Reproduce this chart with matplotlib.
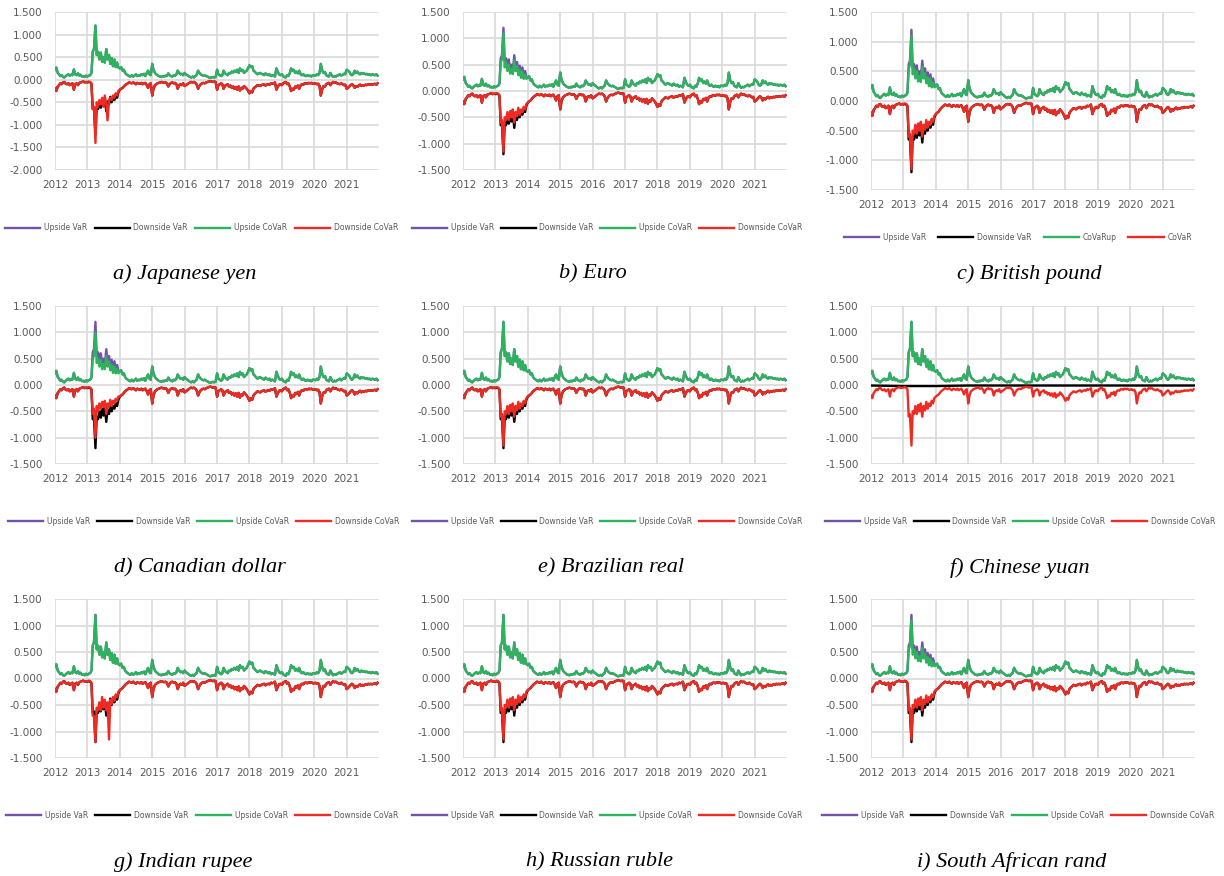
import matplotlib
matplotlib.use('Agg')
import matplotlib.pyplot as plt
import matplotlib.dates as mdates
from matplotlib.ticker import FuncFormatter, MultipleLocator
import pandas as pd

# semi-monthly observation dates (1st and 15th), 2012-2021
DATES = pd.date_range('2012-01-01', '2021-12-31', freq='SMS')

# shared upside profile (Upside VaR, and Upside CoVaR outside 2013)
UPSIDE = [
    0.22, 0.27, 0.15, 0.12, 0.08, 0.10, 0.06, 0.05, 0.08, 0.10, 0.12, 0.09, 0.11, 0.10, 0.23, 0.12, 0.10, 0.14, 0.09, 0.11, 0.07, 0.08, 0.06, 0.09,  # 2012
    0.07, 0.09, 0.10, 0.15, 0.62, 0.68, 1.20, 0.55, 0.62, 0.45, 0.60, 0.40, 0.50, 0.38, 0.68, 0.45, 0.55, 0.35, 0.48, 0.30, 0.45, 0.28, 0.38, 0.27,  # 2013
    0.25, 0.28, 0.20, 0.22, 0.15, 0.12, 0.10, 0.08, 0.07, 0.10, 0.07, 0.09, 0.12, 0.08, 0.10, 0.09, 0.12, 0.10, 0.13, 0.08, 0.15, 0.20, 0.12, 0.10,  # 2014
    0.35, 0.22, 0.15, 0.12, 0.10, 0.08, 0.07, 0.06, 0.08, 0.07, 0.09, 0.08, 0.14, 0.10, 0.08, 0.07, 0.10, 0.09, 0.12, 0.20, 0.15, 0.12, 0.13, 0.10,  # 2015
    0.15, 0.12, 0.10, 0.08, 0.06, 0.05, 0.07, 0.05, 0.08, 0.10, 0.20, 0.15, 0.12, 0.10, 0.09, 0.10, 0.08, 0.07, 0.05, 0.04, 0.05, 0.06, 0.05, 0.06,  # 2016
    0.22, 0.12, 0.10, 0.08, 0.10, 0.20, 0.14, 0.12, 0.10, 0.15, 0.14, 0.18, 0.16, 0.20, 0.17, 0.22, 0.15, 0.25, 0.20, 0.22, 0.15, 0.18, 0.20, 0.25,  # 2017
    0.32, 0.28, 0.30, 0.20, 0.18, 0.15, 0.12, 0.14, 0.15, 0.13, 0.12, 0.10, 0.14, 0.12, 0.10, 0.12, 0.08, 0.10, 0.09, 0.07, 0.25, 0.18, 0.12, 0.10,  # 2018
    0.12, 0.08, 0.06, 0.05, 0.10, 0.08, 0.15, 0.25, 0.20, 0.22, 0.15, 0.18, 0.14, 0.20, 0.12, 0.10, 0.12, 0.09, 0.08, 0.10, 0.08, 0.09, 0.07, 0.10,  # 2019
    0.10, 0.09, 0.12, 0.10, 0.15, 0.35, 0.20, 0.15, 0.17, 0.10, 0.08, 0.07, 0.15, 0.10, 0.06, 0.08, 0.07, 0.09, 0.10, 0.12, 0.09, 0.11, 0.13, 0.12,  # 2020
    0.22, 0.20, 0.17, 0.12, 0.10, 0.12, 0.20, 0.15, 0.18, 0.14, 0.12, 0.15, 0.13, 0.14, 0.12, 0.13, 0.11, 0.12, 0.10, 0.12, 0.11, 0.10, 0.12, 0.09,  # 2021
]

# shared downside profile (Downside CoVaR, and Downside VaR outside 2013)
DOWNSIDE = [
    -0.20, -0.25, -0.15, -0.12, -0.08, -0.10, -0.06, -0.05, -0.09, -0.10, -0.08, -0.12, -0.10, -0.08, -0.22, -0.10, -0.08, -0.12, -0.07, -0.06, -0.05, -0.04, -0.06, -0.05,  # 2012
    -0.05, -0.04, -0.05, -0.08, -0.60, -0.55, -1.15, -0.50, -0.55, -0.40, -0.55, -0.38, -0.50, -0.35, -0.60, -0.40, -0.48, -0.32, -0.45, -0.35, -0.40, -0.30, -0.35, -0.25,  # 2013
    -0.22, -0.20, -0.18, -0.15, -0.12, -0.10, -0.08, -0.06, -0.07, -0.08, -0.06, -0.08, -0.10, -0.07, -0.08, -0.09, -0.07, -0.10, -0.08, -0.07, -0.12, -0.18, -0.10, -0.08,  # 2014
    -0.35, -0.20, -0.12, -0.10, -0.08, -0.07, -0.06, -0.05, -0.06, -0.07, -0.06, -0.08, -0.15, -0.10, -0.07, -0.06, -0.08, -0.07, -0.10, -0.20, -0.12, -0.10, -0.12, -0.08,  # 2015
    -0.14, -0.12, -0.10, -0.08, -0.06, -0.05, -0.06, -0.05, -0.07, -0.10, -0.20, -0.14, -0.10, -0.08, -0.07, -0.08, -0.06, -0.05, -0.04, -0.03, -0.04, -0.05, -0.04, -0.05,  # 2016
    -0.22, -0.12, -0.10, -0.08, -0.10, -0.20, -0.13, -0.12, -0.10, -0.15, -0.13, -0.18, -0.15, -0.20, -0.16, -0.22, -0.15, -0.24, -0.18, -0.20, -0.14, -0.17, -0.20, -0.24,  # 2017
    -0.30, -0.25, -0.28, -0.20, -0.17, -0.15, -0.12, -0.13, -0.14, -0.12, -0.11, -0.10, -0.13, -0.11, -0.10, -0.11, -0.08, -0.09, -0.08, -0.06, -0.22, -0.16, -0.11, -0.10,  # 2018
    -0.12, -0.08, -0.06, -0.05, -0.10, -0.08, -0.15, -0.25, -0.20, -0.22, -0.15, -0.17, -0.13, -0.20, -0.12, -0.10, -0.11, -0.08, -0.08, -0.09, -0.07, -0.08, -0.07, -0.09,  # 2019
    -0.09, -0.08, -0.10, -0.09, -0.14, -0.35, -0.20, -0.14, -0.15, -0.10, -0.08, -0.07, -0.12, -0.08, -0.05, -0.07, -0.06, -0.08, -0.09, -0.10, -0.08, -0.10, -0.12, -0.11,  # 2020
    -0.20, -0.18, -0.15, -0.12, -0.10, -0.12, -0.18, -0.14, -0.16, -0.13, -0.11, -0.14, -0.12, -0.13, -0.11, -0.12, -0.10, -0.11, -0.10, -0.11, -0.10, -0.09, -0.11, -0.08,  # 2021
]

# 2013 segments that differ between currencies
UP_COVAR_2013_LOW = [0.07, 0.09, 0.10, 0.13, 0.55, 0.60, 1.10, 0.45, 0.55, 0.38, 0.50, 0.33, 0.42, 0.32, 0.58, 0.38, 0.47, 0.30, 0.40, 0.25, 0.37, 0.23, 0.31, 0.23]
UP_COVAR_2013_CAD = [0.07, 0.09, 0.10, 0.13, 0.50, 0.55, 1.00, 0.42, 0.50, 0.35, 0.47, 0.30, 0.40, 0.30, 0.55, 0.35, 0.45, 0.28, 0.38, 0.23, 0.35, 0.22, 0.30, 0.22]
DOWN_VAR_2013 = [-0.06, -0.05, -0.06, -0.09, -0.65, -0.62, -1.20, -0.60, -0.65, -0.50, -0.62, -0.45, -0.58, -0.42, -0.70, -0.48, -0.55, -0.38, -0.50, -0.40, -0.45, -0.35, -0.40, -0.28]
DOWN_COVAR_2013_JPY = [-0.05, -0.04, -0.05, -0.08, -0.65, -0.60, -1.40, -0.50, -0.60, -0.45, -0.55, -0.40, -0.60, -0.35, -0.55, -0.90, -0.45, -0.40, -0.45, -0.35, -0.40, -0.30, -0.35, -0.25]
DOWN_COVAR_2013_CAD = [-0.05, -0.04, -0.05, -0.08, -0.55, -0.45, -1.00, -0.40, -0.50, -0.35, -0.45, -0.32, -0.42, -0.30, -0.55, -0.35, -0.42, -0.28, -0.40, -0.30, -0.35, -0.26, -0.30, -0.22]
DOWN_COVAR_2013_INR = [-0.05, -0.04, -0.05, -0.08, -0.70, -0.70, -1.20, -0.55, -0.60, -0.45, -0.60, -0.35, -0.55, -0.40, -0.60, -0.45, -1.15, -0.40, -0.48, -0.35, -0.42, -0.30, -0.35, -0.25]

# Chinese yuan downside VaR stays close to zero (yearly readings)
CNY_DOWN_VAR_DATES = ['2012-01-01', '2013-01-01', '2014-01-01', '2015-01-01', '2016-01-01', '2017-01-01',
                      '2018-01-01', '2019-01-01', '2020-01-01', '2021-01-01', '2021-12-31']
CNY_DOWN_VAR = [-0.01, -0.02, -0.02, -0.01, -0.01, -0.01, -0.01, -0.01, -0.01, -0.01, -0.01]

CAPTIONS = ['a) Japanese yen', 'b) Euro', 'c) British pound', 'd) Canadian dollar', 'e) Brazilian real',
            'f) Chinese yuan', 'g) Indian rupee', 'h) Russian ruble', 'i) South African rand']
LABELS = ['Upside VaR', 'Downside VaR', 'Upside CoVaR', 'Downside CoVaR']
LABELS_GBP = ['Upside VaR', 'Downside VaR', 'CoVaRup', 'CoVaR']

COLORS = ['#7352aa', '#000000', '#2db25d', '#ee2a22']
GRAY = '#595959'
LW = 1.7

W, H = 1224, 876


def with_2013(base, seg):
    out = list(base)
    out[24:48] = seg
    return out


# pixel layout: axes (left, top, right, bottom), legend (x0, x1, y), caption (x, y), ymin
panels = [
    dict(ax=(55, 12, 379, 170), leg=(5, 398, 228), cap=(185, 274), ymin=-2.0,
         up_covar=None, down_covar=DOWN_COVAR_2013_JPY, labels=LABELS),
    dict(ax=(463, 12, 787, 170), leg=(412, 802, 228), cap=(593, 274), ymin=-1.5,
         up_covar=UP_COVAR_2013_LOW, down_covar=None, labels=LABELS),
    dict(ax=(871, 12, 1195, 190), leg=(844, 1192, 237), cap=(1029, 274), ymin=-1.5,
         up_covar=UP_COVAR_2013_LOW, down_covar=None, labels=LABELS_GBP),
    dict(ax=(55, 306, 379, 464), leg=(8, 399, 521), cap=(200, 568), ymin=-1.5,
         up_covar=UP_COVAR_2013_CAD, down_covar=DOWN_COVAR_2013_CAD, labels=LABELS),
    dict(ax=(463, 306, 787, 464), leg=(412, 802, 521), cap=(611, 568), ymin=-1.5,
         up_covar=None, down_covar=None, labels=LABELS),
    dict(ax=(871, 306, 1195, 464), leg=(825, 1215, 521), cap=(1020, 568), ymin=-1.5,
         up_covar=None, down_covar=None, labels=LABELS, cny=True),
    dict(ax=(55, 599, 379, 758), leg=(6, 398, 815), cap=(183, 862), ymin=-1.5,
         up_covar=None, down_covar=DOWN_COVAR_2013_INR, labels=LABELS),
    dict(ax=(463, 599, 787, 758), leg=(412, 802, 815), cap=(599, 862), ymin=-1.5,
         up_covar=None, down_covar=None, labels=LABELS),
    dict(ax=(871, 599, 1195, 758), leg=(822, 1214, 815), cap=(1012, 862), ymin=-1.5,
         up_covar=UP_COVAR_2013_LOW, down_covar=None, labels=LABELS),
]

fig = plt.figure(figsize=(W / 100, H / 100), dpi=100)

for p, caption in zip(panels, CAPTIONS):
    l, t, r, b = p['ax']
    ax = fig.add_axes([l / W, 1 - b / H, (r - l) / W, (b - t) / H])

    up_var = UPSIDE
    up_covar = with_2013(UPSIDE, p['up_covar']) if p['up_covar'] else UPSIDE
    down_covar = with_2013(DOWNSIDE, p['down_covar']) if p['down_covar'] else DOWNSIDE

    h1, = ax.plot(DATES, up_var, color=COLORS[0], lw=LW)
    if p.get('cny'):
        h2, = ax.plot(pd.to_datetime(CNY_DOWN_VAR_DATES), CNY_DOWN_VAR, color=COLORS[1], lw=LW)
    else:
        h2, = ax.plot(DATES, with_2013(DOWNSIDE, DOWN_VAR_2013), color=COLORS[1], lw=LW)
    h3, = ax.plot(DATES, up_covar, color=COLORS[2], lw=LW)
    h4, = ax.plot(DATES, down_covar, color=COLORS[3], lw=LW)

    ax.set_xlim(pd.Timestamp('2012-01-01'), pd.Timestamp('2021-12-31'))
    ax.set_ylim(p['ymin'], 1.5)
    ax.xaxis.set_major_locator(mdates.YearLocator())
    ax.xaxis.set_major_formatter(mdates.DateFormatter('%Y'))
    ax.yaxis.set_major_locator(MultipleLocator(0.5))
    ax.yaxis.set_major_formatter(FuncFormatter(lambda v, pos: f'{v:.3f}'))
    ax.grid(True, color='#d9d9d9', lw=1.2)
    ax.set_axisbelow(True)
    for s in ax.spines.values():
        s.set_visible(False)
    ax.tick_params(length=0, labelsize=7.5, labelcolor=GRAY)
    ax.tick_params(axis='x', pad=7)
    ax.tick_params(axis='y', pad=9)

    x0, x1, ly = p['leg']
    ax.legend([h1, h2, h3, h4], p['labels'], loc='center', ncol=4, mode='expand',
              bbox_to_anchor=(x0 / W, 1 - (ly + 6) / H, (x1 - x0) / W, 12 / H),
              bbox_transform=fig.transFigure, frameon=False, fontsize=5.5,
              labelcolor=GRAY, handlelength=4.6, handletextpad=0.5,
              borderaxespad=0, borderpad=0)

    cx, cy = p['cap']
    fig.text(cx / W, 1 - cy / H, caption, family='Liberation Serif', style='italic',
             size=16, ha='center', va='center')

fig.savefig('out.png', dpi=100)
